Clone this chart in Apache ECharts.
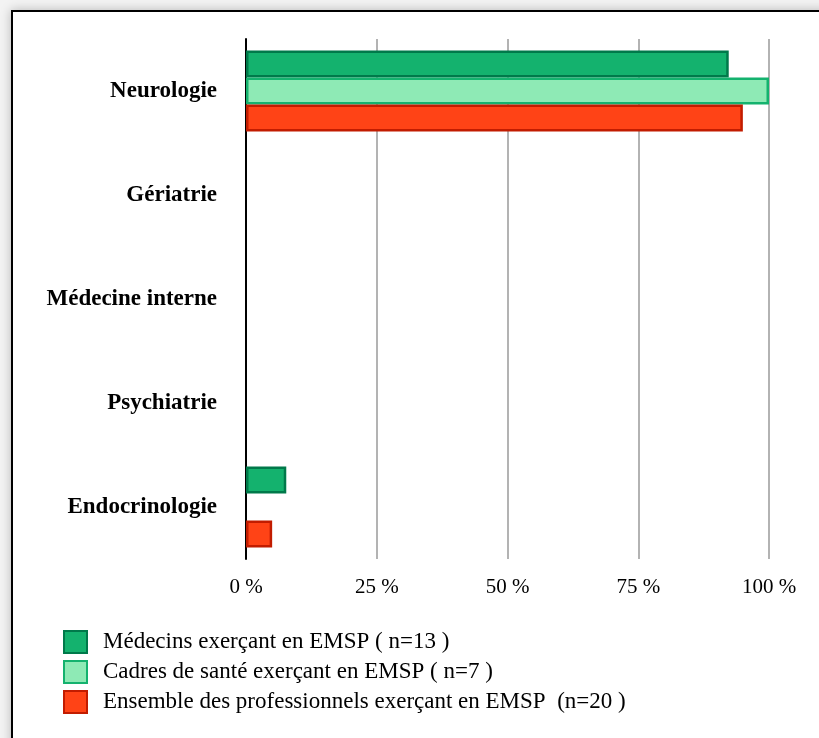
<!DOCTYPE html>
<html>
<head>
<meta charset="utf-8">
<script src="https://cdn.jsdelivr.net/npm/echarts@6/dist/echarts.min.js"></script>
<style>
  html, body { margin: 0; padding: 0; width: 819px; height: 738px; overflow: hidden; background: #f3f3f3; }
  #frame { position: absolute; left: 11px; top: 10px; width: 830px; height: 760px; background: #fff;
           border: 2px solid #000; box-shadow: 0 0 10px rgba(0,0,0,0.25); }
  #chart { position: absolute; left: 0; top: 0; width: 819px; height: 738px; }
</style>
</head>
<body>
<div id="frame"></div>
<div id="chart"></div>
<script>
const categories = ["Neurologie", "Gériatrie", "Médecine interne", "Psychiatrie", "Endocrinologie"];
const seriesNames = [
  "Médecins exerçant en EMSP ( n=13 )",
  "Cadres de santé exerçant en EMSP ( n=7 )",
  "Ensemble des professionnels exerçant en EMSP  (n=20 )"
];
const medecins = [92.3, 0, 0, 0, 7.7];
const cadres = [100, 0, 0, 0, 0];
const ensemble = [95, 0, 0, 0, 5];
const xTicks = [0, 25, 50, 75, 100];

const fills = ["#14b26e", "#8eeab5", "#ff4316"];
const borders = ["#00794a", "#14b26e", "#c21c00"];
const FONT = "'Liberation Serif', 'Times New Roman', serif";

const chart = echarts.init(document.getElementById('chart'), null, { renderer: 'canvas' });
const toData = arr => arr.map(v => (v === 0 ? null : v));
const allValues = [medecins, cadres, ensemble];

chart.setOption({
  backgroundColor: 'transparent',
  animation: false,
  grid: { left: 246, right: 50, top: 39, bottom: 179, containLabel: false },
  legend: {
    orient: 'vertical',
    left: 63, top: 630, padding: 0,
    itemWidth: 23, itemHeight: 22, itemGap: 6,
    icon: 'rect',
    textStyle: { fontFamily: FONT, fontSize: 23, lineHeight: 22, color: '#000', padding: [0, 0, 0, 11] },
    data: seriesNames
  },
  xAxis: {
    type: 'value', min: xTicks[0], max: xTicks[xTicks.length - 1], interval: 25,
    axisLine: { show: false }, axisTick: { show: false },
    splitLine: { show: true, lineStyle: { color: '#b3b3b3', width: 2 } },
    axisLabel: { formatter: '{value} %', fontFamily: FONT, fontSize: 21, color: '#000', margin: 18 }
  },
  yAxis: {
    type: 'category', data: categories, inverse: true,
    axisLine: { show: true, lineStyle: { color: '#000', width: 2 } },
    axisTick: { show: false },
    axisLabel: { fontFamily: FONT, fontSize: 23, fontWeight: 'bold', color: '#000', margin: 29 }
  },
  series: seriesNames.map((name, i) => ({
    name: name, type: 'bar',
    data: toData(allValues[i]),
    barGap: '0%', barCategoryGap: '22%',
    itemStyle: { color: fills[i], borderColor: borders[i], borderWidth: 2.5 }
  }))
});
</script>
</body>
</html>
